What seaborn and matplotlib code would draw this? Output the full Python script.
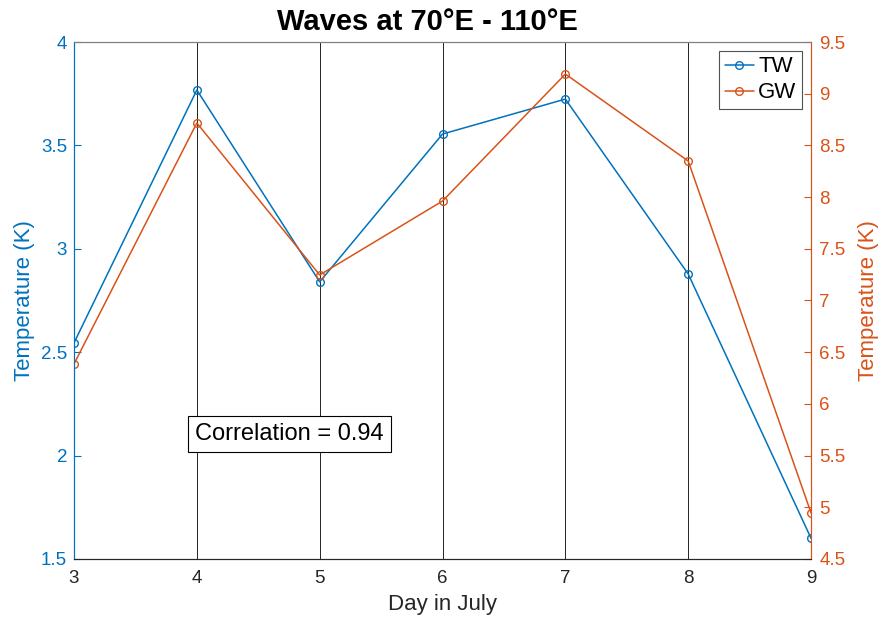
import pandas as pd
import matplotlib.pyplot as plt
import seaborn as sns

days = [3, 4, 5, 6, 7, 8, 9]
tw = [2.545, 3.768, 2.84, 3.555, 3.724, 2.878, 1.60]
gw = [6.386, 8.717, 7.247, 7.962, 9.19, 8.349, 4.945]
left_ticks = [1.5, 2, 2.5, 3, 3.5, 4]
right_ticks = [4.5, 5, 5.5, 6, 6.5, 7, 7.5, 8, 8.5, 9, 9.5]
corr = 0.94

blue = "#0072BD"
orange = "#D95319"

sns.set_style("white")
plt.rcParams['font.family'] = ['Liberation Sans', 'DejaVu Sans']

df = pd.DataFrame({"day": days, "TW": tw, "GW": gw})

fig = plt.figure(figsize=(8.81, 6.27), dpi=100)
ax = fig.add_axes([0.084, 0.1085, 0.8366, 0.8245])
ax2 = ax.twinx()

# vertical reference lines at each inner day
for d in days[1:-1]:
    ax.axvline(d, color="black", lw=0.6, zorder=0)

sns.lineplot(data=df, x="day", y="TW", ax=ax, color=blue, marker="o", markersize=5.5,
             markerfacecolor="none", markeredgecolor=blue, markeredgewidth=1, lw=1.1, label="TW", legend=False)
sns.lineplot(data=df, x="day", y="GW", ax=ax2, color=orange, marker="o", markersize=5.5,
             markerfacecolor="none", markeredgecolor=orange, markeredgewidth=1, lw=1.1, label="GW", legend=False)

ax.set_xlim(3, 9)
ax.set_ylim(1.5, 4)
ax2.set_ylim(4.5, 9.5)
ax.set_xticks(days)
ax.set_yticks(left_ticks)
ax.set_yticklabels([f"{t:g}" for t in left_ticks])
ax2.set_yticks(right_ticks)
ax2.set_yticklabels([f"{t:g}" for t in right_ticks])

ax.set_xlabel("Day in July", fontsize=16, color="#262626", labelpad=5)
ax.set_ylabel("Temperature (K)", fontsize=16, color=blue, labelpad=4)
ax2.set_ylabel("Temperature (K)", fontsize=16, color=orange, labelpad=9)
ax.set_title("Waves at 70°E - 110°E", fontsize=21, fontweight="bold", color="black", x=0.479, pad=9)

ax.tick_params(axis="x", colors="#262626", labelsize=13.5, direction="in", length=5, pad=8)
ax.tick_params(axis="y", colors=blue, labelsize=13.5, direction="in", length=5, pad=5)
ax2.tick_params(axis="y", colors=orange, labelsize=13.5, direction="in", length=5, pad=6)

for a in (ax, ax2):
    for s in a.spines.values():
        s.set_linewidth(0.8)
    a.spines["top"].set_color("#7f7f7f")
    a.spines["bottom"].set_color("#262626")
    a.spines["left"].set_color(blue)
    a.spines["right"].set_color(orange)

lines = ax.get_lines()[-1:] + ax2.get_lines()[-1:]
leg = ax2.legend(lines, ["TW", "GW"], loc="upper right", fontsize=16, frameon=True,
                 fancybox=False, edgecolor="#262626", handlelength=1.3, handletextpad=0.2,
                 borderpad=0.25, labelspacing=0.22, borderaxespad=0.4)
leg.get_frame().set_linewidth(0.8)
for t in leg.get_texts():
    t.set_color("black")

ax.text(3.985, 2.104, f"Correlation = {corr:.2f}", fontsize=17, va="center", ha="left", color="black",
        bbox=dict(boxstyle="square,pad=0.3", facecolor="white", edgecolor="black", lw=0.8), zorder=5)

fig.savefig("out.png", dpi=100)
